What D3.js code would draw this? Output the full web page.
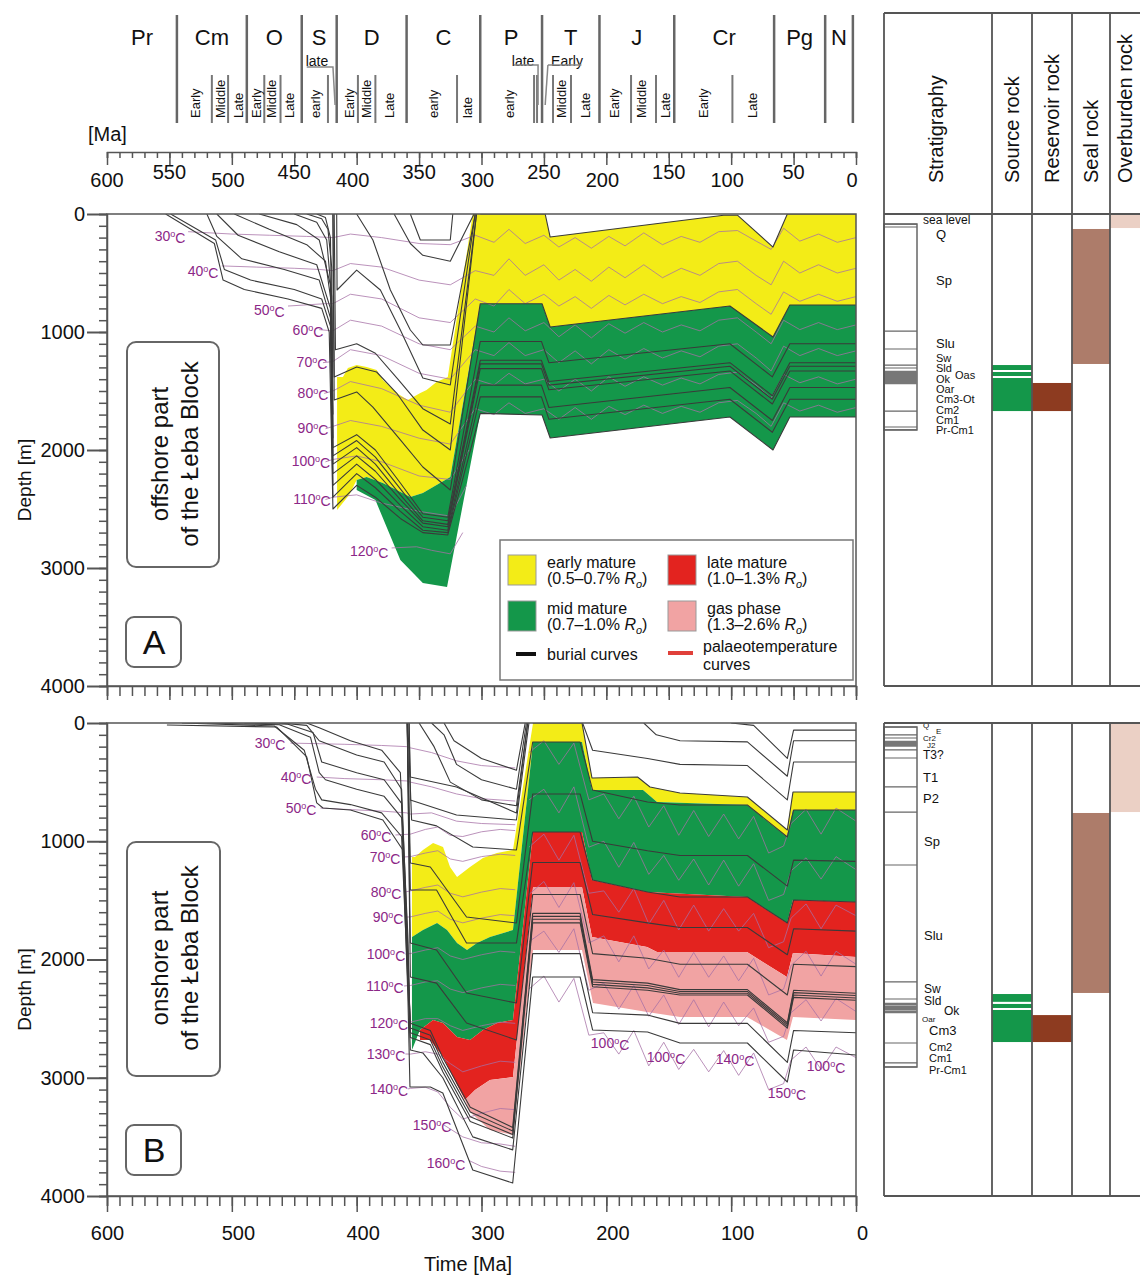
<!DOCTYPE html>
<html>
<head>
<meta charset="utf-8">
<script src="https://cdn.jsdelivr.net/npm/d3@7"></script>
<style>
body { margin: 0; background: #fff; }
text { font-family: "Liberation Sans", Arial, sans-serif; fill: #111; }
</style>
</head>
<body>
<svg id="chart" width="1140" height="1275"></svg>
<script>
// ---------- time scale ----------
let periodNames = ["Pr", "Cm", "O", "S", "D", "C", "P", "T", "J", "Cr", "Pg", "N"];
let periodBounds = [544, 488, 444, 416, 360, 301, 251.5, 205.5, 145.6, 65.6, 24.7, 2.5];
let epochBounds = [516, 503, 474, 461, 423, 399, 385, 319.6, 257.9, 255.5, 242.7, 228.3, 180.2, 160.2, 99];
let epochLabels = [["Early", 529.5], ["Middle", 509.5], ["Late", 495], ["Early", 480.6], ["Middle", 468.6], ["Late", 454.2],
    ["early", 433.4], ["Early", 406], ["Middle", 392.5], ["Late", 374], ["early", 338.8], ["late", 311.6], ["early", 278],
    ["Middle", 236.3], ["Late", 217], ["Early", 193.9], ["Middle", 172.2], ["Late", 153], ["Early", 122.5], ["Late", 83.3]];
let flatLabels = [["late", 431.8], ["late", 266.7], ["Early", 231.5]];
let brackets = [[[440, 67], [419, 67], [417.3, 105]], [[274, 65], [254.7, 65], [254.7, 105]], [[246.8, 65], [220, 65]], [[246.8, 65], [249, 105]]];
let timeTicks = [600, 550, 500, 450, 400, 350, 300, 250, 200, 150, 100, 50, 0];

// ---------- panel A (offshore) : [Ma, depth m] ----------
let yellowA = [[415.7,1381],[411,1381],[407,1305],[400,1280],[392,1297],[384,1322],[379,1407],[368,1517],[359,1576],[349,1517],[344,1492],[336,1424],[327,1381],[307,0],[249,0],[245,195],[106,10],[95,10],[66.5,280],[55,0],[0,0],[0,771],[53,771],[66.5,1042],[101,780],[245,958],[251.5,760],[301,760],[325,2229],[347,2364],[357,2398],[379,2280],[392,2229],[400,2254],[406,2381],[415.7,2509]];
let greenA = [[400,2254],[392,2229],[379,2280],[357,2398],[347,2364],[325,2229],[301,760],[251.5,760],[245,958],[101,780],[66.5,1042],[53,771],[0,771],[0,1720],[53,1720],[66.5,2000],[101,1720],[245,1898],[251.5,1703],[301,1690],[327.6,3161],[347,3127],[365,2932],[385,2424],[400,2339]];

let burialA = [
    [[553,0],[514,250],[507,560],[490,640],[455,720],[428,800],[422,1000],[419,2500],[400,2300],[385,2400],[365,2580],[347,2700],[327,2720],[301,1690],[251.5,1703],[245,1898],[101,1720],[66.5,2000],[53,1720],[0,1720]],
    [[549,0],[513,220],[506,470],[485,560],[450,640],[428,720],[421,950],[419,2400],[400,2200],[385,2320],[365,2520],[347,2680],[327,2700],[301,1550],[252,1550],[246,1740],[101,1570],[67,1850],[53,1570],[0,1570]],
    [[520,0],[512,190],[492,380],[458,470],[430,560],[421,880],[419,2300],[400,2120],[385,2250],[365,2470],[347,2650],[327,2680],[301,1450],[252,1450],[246,1640],[101,1470],[67,1750],[53,1470],[0,1470]],
    [[512,0],[495,180],[462,320],[432,430],[421,800],[419,2200],[400,2050],[385,2180],[365,2420],[347,2620],[327,2650],[301,1310],[252,1310],[246,1490],[101,1330],[67,1610],[53,1330],[0,1330]],
    [[498,0],[470,130],[440,260],[425,400],[420,780],[419,2120],[400,1980],[385,2120],[365,2380],[347,2600],[327,2630],[301,1270],[252,1270],[246,1450],[101,1290],[67,1570],[53,1290],[0,1290]],
    [[478,0],[448,90],[430,220],[421,600],[419,2050],[400,1920],[385,2060],[365,2330],[347,2570],[327,2600],[301,1240],[252,1240],[246,1420],[101,1260],[67,1540],[53,1260],[0,1260]],
    [[450,0],[432,70],[424,220],[420,700],[419,1980],[400,1870],[385,2000],[365,2280],[347,2540],[327,2570],[301,1080],[252,1080],[246,1260],[101,1100],[67,1380],[53,1100],[0,1100]],
    [[440,0],[428,40],[423,130],[420,450],[419,1900]],
    [[432,0],[425,30],[421,200],[419,1700]],
    [[419,0],[418,1576],[400,1508],[387,1636],[365,1915],[347,2144],[325,2339],[301,760],[251.5,760],[245,958],[101,780],[66.5,1042],[53,771],[0,771]],
    [[419,0],[418,1381],[400,1297],[384,1339],[368,1517],[347,1831],[325,2000],[304,0]],
    [[418,0],[417,1150],[400,1100],[385,1180],[367,1400],[347,1650],[325,1780],[304,0]],
    [[416,0],[415.7,644],[400,475],[381,644],[365,983],[347,1390],[325,1449],[305,0]],
    [[400,0],[387,220],[373,644],[357,983],[347,1110],[325,1110],[305,0]],
    [[370,0],[357,250],[347,350],[325,400],[306,0]],
    [[357,0],[349,220],[325,220],[323,0]],
    [[301,0],[249,0],[245,195],[106,10],[95,10],[66.5,280],[55,0],[0,0]]
];

let isoA = [
    [[535,150],[500,170],[470,180],[440,190],[419,200],[405,170],[380,200],[350,250],[325,260],[305,180],[290,240],[278,130],[265,250],[250,180],[238,280],[225,200],[212,290],[198,190],[185,270],[170,160],[155,260],[140,190],[125,240],[110,150],[95,140],[80,230],[68,300],[58,120],[45,230],[30,170],[15,240],[0,200]],
    [[508,440],[480,450],[450,460],[430,470],[419,480],[405,420],[380,450],[350,560],[325,600],[305,480],[290,520],[278,380],[265,520],[250,430],[238,560],[225,470],[212,570],[198,450],[185,540],[170,430],[155,540],[140,460],[125,520],[110,420],[95,400],[80,520],[68,600],[58,400],[45,500],[30,430],[15,500],[0,460]],
    [[455,780],[440,770],[425,760],[419,760],[405,680],[380,720],[350,880],[325,920],[305,720],[290,780],[278,640],[265,760],[250,680],[238,780],[225,700],[212,800],[198,690],[185,770],[170,680],[155,760],[140,700],[125,750],[110,660],[95,640],[80,760],[68,850],[58,660],[45,740],[30,680],[15,740],[0,700]],
    [[430,980],[419,990],[405,900],[380,950],[350,1100],[325,1150],[305,950],[290,1000],[278,880],[265,990],[250,920],[238,1040],[225,940],[212,1050],[198,930],[185,1010],[170,920],[155,1000],[140,940],[125,990],[110,900],[95,880],[80,1000],[68,1100],[58,900],[45,980],[30,920],[15,980],[0,940]],
    [[427,1260],[419,1250],[405,1150],[380,1200],[350,1350],[325,1400],[305,1150],[290,1200],[278,1090],[265,1200],[250,1150],[238,1260],[225,1160],[212,1270],[198,1150],[185,1230],[170,1140],[155,1220],[140,1160],[125,1210],[110,1120],[95,1100],[80,1220],[68,1330],[58,1120],[45,1200],[30,1140],[15,1200],[0,1160]],
    [[426,1520],[419,1500],[405,1420],[380,1480],[350,1620],[325,1680],[305,1400],[290,1450],[278,1350],[265,1440],[250,1400],[238,1500],[225,1400],[212,1500],[198,1380],[185,1460],[170,1380],[155,1450],[140,1390],[125,1440],[110,1360],[95,1340],[80,1450],[68,1560],[58,1360],[45,1430],[30,1380],[15,1440],[0,1400]],
    [[425,1820],[419,1800],[405,1750],[380,1800],[350,1900],[325,1950],[305,1650],[290,1700],[278,1600],[265,1690],[250,1650],[238,1740],[225,1640],[212,1740],[198,1630],[185,1700],[170,1620],[155,1690],[140,1630],[125,1680],[110,1600],[95,1580],[80,1690],[68,1800],[58,1600],[45,1670],[30,1620],[15,1680],[0,1640]],
    [[425,2100],[419,2080],[400,2050],[380,2100],[350,2220],[325,2250],[310,2000]],
    [[425,2420],[419,2400],[400,2380],[380,2450],[350,2520],[325,2560],[312,2300]],
    [[372,2830],[352,2820],[340,2850],[325,2880],[315,2700]]
];
let isoLabelsA = [[549.5,186,30],[523,483,40],[470,814,50],[439,983,60],[435.8,1254,70],[435,1517,80],[435,1814,90],[436.6,2093,100],[435.8,2415,110],[390,2856,120]];

// ---------- panel B (onshore) ----------
let yellowB = [[355.7,1133],[353.3,1133],[346.9,1074],[338.8,1015],[330.8,1049],[325.2,1218],[319.6,1302],[309.2,1218],[298.8,1142],[287.6,1099],[274.8,1074],[258.7,0],[219.5,0],[211.5,465],[175.4,457],[165,541],[141,592],[87.3,626],[55.3,905],[50.5,584],[0,584],[0,736],[50.5,736],[55.3,964],[87.3,693],[159.4,668],[170.6,567],[211.5,567],[219.5,161],[258.7,161],[274.8,1751],[293.2,1810],[303.6,1861],[311.6,1920],[319.6,1861],[327.6,1751],[335.6,1691],[346.9,1751],[355.7,1810]];
let greenB = [[355.7,1810],[346.9,1751],[335.6,1691],[327.6,1751],[319.6,1861],[311.6,1920],[303.6,1861],[293.2,1810],[274.8,1751],[258.7,161],[219.5,161],[211.5,567],[170.6,567],[159.4,668],[87.3,693],[55.3,964],[50.5,736],[0,736],[0,1514],[50.5,1497],[55.3,1691],[87.3,1472],[167.4,1429],[211.5,1328],[219.5,922],[258.7,922],[274.8,2512],[287.6,2537],[298.8,2596],[309.2,2681],[319.6,2655],[330.8,2537],[338.8,2512],[349.3,2596],[355.7,2765]];
let redB = [[349.3,2596],[338.8,2512],[330.8,2537],[319.6,2655],[309.2,2681],[298.8,2596],[287.6,2537],[274.8,2512],[258.7,922],[219.5,922],[211.5,1328],[167.4,1429],[87.3,1472],[55.3,1691],[50.5,1497],[0,1514],[0,1979],[50.5,1945],[55.3,2148],[87.3,1937],[159.4,1937],[167.4,1894],[211.5,1810],[219.5,1387],[258.7,1387],[274.8,2994],[293.2,3019],[305.2,3104],[313.2,3188],[319.6,3061],[330.8,2825],[341.2,2681],[349.3,2681]];
let pinkB = [[313.2,3188],[305.2,3104],[293.2,3019],[274.8,2994],[258.7,1387],[219.5,1387],[211.5,1810],[167.4,1894],[159.4,1937],[87.3,1937],[55.3,2148],[50.5,1945],[0,1979],[0,2512],[50.5,2486],[55.3,2681],[87.3,2486],[141,2486],[167.4,2444],[210.7,2368],[219.5,1920],[258.7,1920],[274.8,3484],[293.2,3442],[309.2,3290]];

let burialB = [
    [[552,17],[464,34],[440,287],[432,676],[427,719],[405,736],[379,820],[363,1074],[359,2300],[357.3,3078],[341,3078],[331,3129],[307,3780],[275,3890],[259,2148],[221,2148],[211,2596],[167,2613],[141,2706],[87,2706],[55,3036],[50,2765],[0,2808]],
    [[540,0],[466,25],[442,230],[433,560],[428,650],[405,690],[380,760],[364,960],[359,2200],[357,2765],[347,2790],[331,3000],[307,3500],[275,3610],[259,1950],[221,1950],[211,2450],[167,2470],[141,2540],[87,2540],[55,2870],[50,2600],[0,2620]],
    [[520,0],[462,15],[437,120],[430,420],[425,480],[400,560],[378,620],[364,800],[359,2100],[357,2540],[341,2600],[331,2830],[309,3250],[275,3420],[259,1610],[221,1610],[211,2170],[167,2200],[141,2255],[87,2255],[55,2535],[50,2260],[0,2285]],
    [[490,0],[455,10],[435,80],[428,330],[400,420],[378,480],[364,680],[359,2000],[357,2580],[341,2640],[331,2870],[309,3290],[275,3450],[259,1635],[221,1635],[211,2190],[167,2220],[141,2270],[87,2270],[55,2550],[50,2280],[0,2305]],
    [[462,0],[440,20],[430,150],[400,270],[378,330],[364,560],[359,1900],[357,2620],[341,2680],[331,2910],[309,3330],[275,3480],[259,1660],[221,1660],[211,2210],[167,2240],[141,2285],[87,2285],[55,2565],[50,2300],[0,2325]],
    [[440,0],[430,40],[405,150],[380,230],[365,420],[359,1800],[357,2660],[341,2720],[331,2950],[309,3370],[275,3510],[259,1690],[221,1690],[211,2230],[167,2260],[141,2300],[87,2300],[55,2580],[50,2320],[0,2345]],
    [[359.5,0],[357,2148],[336,2200],[312,2537],[272,2680],[259,1450],[221,1450],[211,1950],[167,1990],[141,2040],[87,2040],[55,2300],[50,2040],[0,2060]],
    [[359.5,0],[357,1861],[336,1920],[312,2283],[272,2368],[259,1180],[221,1180],[211,1620],[167,1690],[141,1730],[87,1730],[55,1960],[50,1740],[0,1760]],
    [[359.5,0],[357,1412],[336,1412],[312,1861],[272,1861],[259,922],[221,922],[211,1328],[167,1429],[141,1472],[87,1472],[55,1691],[50,1497],[0,1514]],
    [[359.5,0],[357,1184],[341,1218],[312,1641],[272,1691],[259,600],[221,600],[211,1000],[167,1080],[141,1120],[87,1120],[55,1380],[50,1160],[0,1170]],
    [[359,0],[356,820],[336,870],[307,1049],[272,1074],[259,161],[221,161],[211,567],[167,668],[141,693],[87,693],[55,964],[50,736],[0,736]],
    [[358,0],[357,651],[320,778],[272,820],[262,0]],
    [[358,0],[357,457],[320,541],[272,761],[263,0]],
    [[350,0],[338,200],[325,500],[300,650],[272,700],[263,0]],
    [[340,0],[330,100],[320,350],[300,480],[272,560],[264,0]],
    [[330,0],[322,150],[300,300],[272,400],[265,0]],
    [[259,0],[219.5,0],[211.5,465],[175,457],[165,541],[141,592],[87,626],[55,905],[50.5,584],[0,584]],
    [[219,0],[211,230],[167,300],[141,350],[87,360],[55,650],[50,330],[0,330]],
    [[170,0],[160,100],[141,150],[87,160],[55,450],[50,150],[0,150]],
    [[100,0],[82,20],[55,300],[50,60],[0,60]]
];
let isoTimesB = [262,250,238,226,214,202,190,178,166,154,142,130,118,106,94,82,70,58,52,40,28,16,0];
let isoRightB = [
    [250,150,350,170,650,600,810,620,880,700,950,740,960,770,980,790,1100,1040,850,730,940,720,830],
    [650,560,760,540,1050,1000,1220,1010,1280,1120,1330,1150,1370,1160,1380,1190,1500,1450,1250,1140,1320,1130,1240],
    [1050,940,1160,950,1440,1420,1600,1400,1700,1500,1750,1540,1760,1570,1760,1610,1900,1850,1650,1530,1740,1540,1630],
    [1450,1340,1560,1350,1860,1800,2020,1800,2080,1920,2150,1940,2150,1970,2180,1990,2300,2250,2050,1930,2140,1930,2040],
    [1850,1760,1940,1740,2260,2200,2420,2220,2480,2300,2550,2340,2570,2360,2560,2410,2700,2650,2450,2340,2520,2330,2440],
    [2250,2140,2360,2160,2640,2620,2800,2600,2900,2700,2930,2760,2950,2770,2980,2790,3100,3050,2850,2740,2930,2740,2830]
];
let isoB = [
    [[453,170],[430,175],[410,180],[380,190],[360,200],[357,210],[340,250],[320,320],[300,360],[273,380]],
    [[432,457],[410,470],[380,480],[360,490],[357,500],[340,540],[320,600],[300,640],[273,660]],
    [[429,719],[410,730],[380,745],[360,760],[357,770],[340,760],[320,830],[300,850],[273,860]],
    [[369,947],[357,940],[345,900],[335,880],[325,950],[315,960],[300,920],[285,900],[273,910]],
    [[362,1133],[357,1130],[345,1100],[335,1080],[325,1150],[315,1170],[300,1130],[285,1110],[273,1120]],
    [[361,1429],[357,1420],[345,1390],[335,1370],[325,1440],[315,1470],[300,1430],[285,1400],[273,1410]],
    [[360,1641],[357,1640],[345,1610],[335,1590],[325,1660],[315,1690],[300,1650],[285,1620],[273,1630]],
    [[361,1954],[357,1950],[345,1920],[335,1900],[325,1970],[315,2000],[300,1960],[285,1930],[273,1940]],
    [[362,2224],[357,2220],[345,2190],[335,2180],[325,2250],[315,2280],[300,2240],[285,2210],[273,2220]],
    [[359,2537],[357,2530],[345,2500],[335,2500],[325,2560],[315,2600],[300,2560],[285,2530],[273,2540]],
    [[361,2799],[357,2800],[345,2780],[335,2800],[325,2880],[315,2950],[300,2900],[285,2860],[273,2870]],
    [[359,3095],[357,3090],[345,3080],[335,3120],[325,3250],[315,3350],[300,3300],[285,3260],[273,3270]],
    [[330,3400],[315,3500],[300,3550],[285,3560],[273,3580]],
    [[310,3700],[300,3750],[285,3790],[273,3800]]
];
let isoLabelsB = [[469.4,169,30],[448.6,457,40],[444.6,719,50],[384.5,947,60],[377.3,1133,70],[376.5,1429,80],[374.9,1641,90],[376.5,1954,100],[377.3,2224,110],[374.1,2537,120],[376.5,2799,130],[374.1,3095,140],[339.6,3399,150],[328.4,3721,160],[197,2706,100],[152.2,2825,100],[96.9,2842,140],[55.3,3129,150],[24,2901,100]];

// ---------- stratigraphy columns (depth m) ----------
let stratLinesA = [85, 110, 992, 1144, 1280, 1305, 1670, 1805, 1830];
let stratDarkA = [1339, 1356, 1373, 1390, 1407, 1420, 1432];
let stratLabelsA = [["sea level", 923, 52, 12], ["Q", 936, 172, 13], ["Sp", 936, 559, 13], ["Slu", 936, 1093, 13], ["Sw", 936, 1220, 11], ["Sld", 936, 1305, 11], ["Oas", 955, 1368, 11], ["Ok", 936, 1400, 11], ["Oar", 936, 1487, 11], ["Cm3-Ot", 936, 1572, 11], ["Cm2", 936, 1659, 11], ["Cm1", 936, 1746, 11], ["Pr-Cm1", 936, 1836, 11]];
let stratLinesB = [34, 101, 127, 228, 296, 541, 753, 1201, 2190, 2334, 2706, 2875, 2909];
let stratDarkB = [161, 175, 190, 2376, 2400, 2420, 2444];
let stratLabelsB = [["Q", 923, 22, 8], ["E", 936, 72, 8], ["Cr2", 923, 128, 8], ["J2", 927, 186, 8], ["T3?", 923, 268, 12], ["T1", 923, 457, 13], ["P2", 923, 634, 13], ["Sp", 924, 998, 13], ["Slu", 924, 1793, 13], ["Sw", 924, 2246, 12], ["Sld", 924, 2346, 12], ["Ok", 944, 2432, 12], ["Oar", 922, 2505, 8], ["Cm3", 929, 2596, 13], ["Cm2", 929, 2738, 11], ["Cm1", 929, 2833, 11], ["Pr-Cm1", 929, 2938, 11]];
let sourceA = [[1280, 1322], [1339, 1373], [1390, 1670]];
let reservoirA = [[1432, 1670]];
let sealA = [[127, 1271]];
let overburdenA = [[0, 119]];
let sourceB = [[2292, 2358], [2376, 2410], [2427, 2698]];
let reservoirB = [[2470, 2698]];
let sealB = [[761, 2283]];
let overburdenB = [[0, 753]];
let columnNames = ["Stratigraphy", "Source rock", "Reservoir rock", "Seal rock", "Overburden rock"];

// ---------- drawing ----------
const svg = d3.select("#chart");
const font = '"Liberation Sans", Arial, sans-serif';
const col = { yellow: "#f3ec17", green: "#14974a", red: "#e3231f", pink: "#f1a3a3",
    burial: "#3a3a3a", iso: "#a570a5", isoText: "#8c2787", frame: "#555" };

const x = d3.scaleLinear().domain([600, 0]).range([107, 856]);
const yA = d3.scaleLinear().domain([0, 4000]).range([214, 686]);
const yB = d3.scaleLinear().domain([0, 4000]).range([723, 1196]);

// top geological time scale
const ts = svg.append("g");
periodBounds.forEach(b => ts.append("line").attr("x1", x(b)).attr("x2", x(b)).attr("y1", 15).attr("y2", 123)
    .attr("stroke", "#666").attr("stroke-width", 2.5));
epochBounds.forEach(b => ts.append("line").attr("x1", x(b)).attr("x2", x(b)).attr("y1", 75).attr("y2", 123)
    .attr("stroke", "#777").attr("stroke-width", 2));
let edges = [600].concat(periodBounds);
periodNames.forEach((n, i) => ts.append("text").attr("x", x((edges[i] + edges[i + 1]) / 2)).attr("y", 45)
    .attr("text-anchor", "middle").attr("font-size", 22).text(n));
epochLabels.forEach(e => ts.append("text").attr("text-anchor", "start").attr("font-size", 13)
    .attr("transform", `translate(${x(e[1]) + 5},118) rotate(-90)`).text(e[0]));
flatLabels.forEach(e => ts.append("text").attr("x", x(e[1])).attr("y", 66).attr("text-anchor", "middle")
    .attr("font-size", 14).text(e[0]));
brackets.forEach(b => ts.append("path").attr("d", d3.line().x(d => x(d[0])).y(d => d[1])(b))
    .attr("fill", "none").attr("stroke", "#888").attr("stroke-width", 1.5));

ts.append("g").attr("transform", "translate(0,152)")
    .call(d3.axisBottom(x).tickValues(d3.range(0, 601, 10)).tickSize(6).tickFormat(""))
    .call(g => g.selectAll("line,path").attr("stroke", "#555").attr("stroke-width", 1.5));
ts.append("g").attr("transform", "translate(0,152)")
    .call(d3.axisBottom(x).tickValues(timeTicks).tickSize(13).tickFormat(""))
    .call(g => { g.select(".domain").remove(); g.selectAll("line").attr("stroke", "#555").attr("stroke-width", 1.5); });
timeTicks.forEach(v => ts.append("text").attr("x", x(v) - (v % 100 === 0 && v < 600 ? 4 : 0)).attr("y", v % 100 === 0 ? 187 : 179)
    .attr("text-anchor", "middle").attr("font-size", 20).text(v));
ts.append("text").attr("x", 88).attr("y", 141).attr("font-size", 20).text("[Ma]");

function panel(y, zones, burial, isos, labels, id) {
    const g = svg.append("g");
    const r0 = y.range();
    g.append("clipPath").attr("id", id).append("rect")
        .attr("x", 107).attr("y", r0[0]).attr("width", 749).attr("height", r0[1] - r0[0]);
    const body = g.append("g").attr("clip-path", `url(#${id})`);
    const line = d3.line().x(d => x(d[0])).y(d => y(d[1]));
    zones.forEach(z => body.append("path").attr("d", line(z.pts) + "Z").attr("fill", z.c).attr("stroke", "none"));
    isos.forEach(p => body.append("path").attr("d", line(p)).attr("fill", "none")
        .attr("stroke", col.iso).attr("stroke-width", 0.9).attr("opacity", 0.85));
    burial.forEach(p => body.append("path").attr("d", line(p)).attr("fill", "none")
        .attr("stroke", col.burial).attr("stroke-width", 1.1).attr("stroke-linejoin", "round"));
    labels.forEach(l => {
        const t = g.append("text").attr("x", x(l[0])).attr("y", y(l[1])).attr("dy", "0.35em")
            .attr("text-anchor", "middle").attr("font-size", 14).style("fill", col.isoText);
        t.append("tspan").text(l[2]);
        t.append("tspan").attr("dy", "-0.45em").attr("font-size", 9).text("o");
        t.append("tspan").attr("dy", "0.45em").text("C");
    });
    g.append("rect").attr("x", 107).attr("y", r0[0]).attr("width", 749).attr("height", r0[1] - r0[0])
        .attr("fill", "none").attr("stroke", col.frame).attr("stroke-width", 1.5);
    g.append("g").attr("transform", "translate(107,0)")
        .call(d3.axisLeft(y).tickValues(d3.range(0, 4001, 100)).tickSize(8).tickFormat(""))
        .call(a => a.selectAll("line,path").attr("stroke", col.frame).attr("stroke-width", 1.5));
    g.append("g").attr("transform", "translate(107,0)")
        .call(d3.axisLeft(y).tickValues(d3.range(0, 4001, 1000)).tickSize(20).tickPadding(2).tickFormat(d3.format("d")))
        .call(a => {
            a.select(".domain").remove();
            a.selectAll("line").attr("stroke", col.frame).attr("stroke-width", 2);
            a.selectAll("text").attr("font-size", 20).attr("font-family", font).style("fill", "#111");
        });
    g.append("text").attr("transform", `translate(31,${(r0[0] + r0[1]) / 2 + 30}) rotate(-90)`)
        .attr("text-anchor", "middle").attr("font-size", 19).text("Depth [m]");
    g.append("g").attr("transform", `translate(0,${r0[1]})`)
        .call(d3.axisBottom(x).tickValues(d3.range(0, 601, 10)).tickSize(10).tickFormat(""))
        .call(a => a.selectAll("line,path").attr("stroke", col.frame).attr("stroke-width", 1.5));
    return g;
}

const gA = panel(yA, [{ pts: yellowA, c: col.yellow }, { pts: greenA, c: col.green }], burialA, isoA, isoLabelsA, "clipA");
gA.append("g").attr("transform", "translate(0,686)")
    .call(d3.axisBottom(x).tickValues(d3.range(0, 601, 50)).tickSize(14).tickFormat(""))
    .call(a => { a.select(".domain").remove(); a.selectAll("line").attr("stroke", col.frame).attr("stroke-width", 1.5); });

let isoBAll = isoB.concat(isoRightB.map(r => r.map((d, i) => [isoTimesB[i], d])));
const gB = panel(yB, [{ pts: yellowB, c: col.yellow }, { pts: greenB, c: col.green }, { pts: redB, c: col.red }, { pts: pinkB, c: col.pink }],
    burialB, isoBAll, isoLabelsB, "clipB");
gB.append("g").attr("transform", "translate(0,1196)")
    .call(d3.axisBottom(x).tickValues(d3.range(0, 601, 100)).tickSize(16).tickPadding(14))
    .call(a => {
        a.select(".domain").remove();
        a.selectAll("line").attr("stroke", col.frame).attr("stroke-width", 1.5);
        a.selectAll("text").attr("font-size", 20).attr("font-family", font).style("fill", "#111")
            .attr("dx", d => d < 600 ? 6 : 0);
    });
gB.append("text").attr("x", 468).attr("y", 1271).attr("text-anchor", "middle").attr("font-size", 20).text("Time [Ma]");

// panel name boxes
function nameBox(x0, y0, w, h, lines, cy) {
    svg.append("rect").attr("x", x0).attr("y", y0).attr("width", w).attr("height", h).attr("rx", 9)
        .attr("fill", "#fff").attr("stroke", "#666").attr("stroke-width", 2);
    lines.forEach((s, i) => svg.append("text").attr("text-anchor", "middle").attr("font-size", 24)
        .attr("transform", `translate(${x0 + 41 + i * 30},${cy}) rotate(-90)`).text(s));
}
nameBox(127, 342, 92, 225, ["offshore part", "of the Łeba Block"], 454);
nameBox(127, 842, 93, 234, ["onshore part", "of the Łeba Block"], 958);
function letterBox(x0, y0, s) {
    svg.append("rect").attr("x", x0).attr("y", y0).attr("width", 55).attr("height", 50).attr("rx", 8)
        .attr("fill", "#fff").attr("stroke", "#666").attr("stroke-width", 2);
    svg.append("text").attr("x", x0 + 28).attr("y", y0 + 37).attr("text-anchor", "middle").attr("font-size", 34).text(s);
}
letterBox(126, 617, "A");
letterBox(126, 1125, "B");

// legend
const lg = svg.append("g");
lg.append("rect").attr("x", 500).attr("y", 540).attr("width", 353).attr("height", 140)
    .attr("fill", "#fff").attr("stroke", "#777").attr("stroke-width", 1.5);
let legendItems = [
    { c: col.yellow, x: 508, y: 555, t1: "early mature", t2: "(0.5–0.7% " },
    { c: col.red, x: 668, y: 555, t1: "late mature", t2: "(1.0–1.3% " },
    { c: col.green, x: 508, y: 601, t1: "mid mature", t2: "(0.7–1.0% " },
    { c: col.pink, x: 668, y: 601, t1: "gas phase", t2: "(1.3–2.6% " }
];
legendItems.forEach(it => {
    lg.append("rect").attr("x", it.x).attr("y", it.y).attr("width", 28).attr("height", 30)
        .attr("fill", it.c).attr("stroke", "#999").attr("stroke-width", 1);
    lg.append("text").attr("x", it.x + 39).attr("y", it.y + 13).attr("font-size", 16).text(it.t1);
    const t = lg.append("text").attr("x", it.x + 39).attr("y", it.y + 29).attr("font-size", 16);
    t.append("tspan").text(it.t2);
    t.append("tspan").attr("font-style", "italic").text("R");
    t.append("tspan").attr("font-size", 11).attr("dy", 4).attr("font-style", "italic").text("o");
    t.append("tspan").attr("dy", -4).text(")");
});
lg.append("line").attr("x1", 516).attr("x2", 536).attr("y1", 654).attr("y2", 654).attr("stroke", "#111").attr("stroke-width", 4);
lg.append("text").attr("x", 547).attr("y", 660).attr("font-size", 16).text("burial curves");
lg.append("line").attr("x1", 668).attr("x2", 693).attr("y1", 653).attr("y2", 653).attr("stroke", "#e0403a").attr("stroke-width", 4);
lg.append("text").attr("x", 703).attr("y", 652).attr("font-size", 16).text("palaeotemperature");
lg.append("text").attr("x", 703).attr("y", 670).attr("font-size", 16).text("curves");

// right-hand columns
const cols = [884, 992, 1032, 1072, 1110, 1150];
const rc = svg.append("g");
columnNames.forEach((n, i) => rc.append("text").attr("text-anchor", "start").attr("font-size", 20)
    .attr("transform", `translate(${(cols[i] + cols[i + 1]) / 2 + 7 - (i === 0 ? 2 : 0) - (i === 4 ? 5 : 0)},183) rotate(-90)`).text(n));

function columns(y, strat, dark, labels, src, res, seal, over) {
    const [y0, y1] = y.range();
    const g = rc.append("g");
    const block = (arr, i, c) => arr.forEach(r => g.append("rect").attr("x", cols[i]).attr("width", cols[i + 1] - cols[i])
        .attr("y", y(r[0])).attr("height", y(r[1]) - y(r[0])).attr("fill", c));
    block(src, 1, col.green);
    block(res, 2, "#8d3b20");
    block(seal, 3, "#ad7c6a");
    block(over, 4, "#ebd0c5");
    const s0 = strat[0], s1 = strat[strat.length - 1];
    g.append("rect").attr("x", cols[0]).attr("y", y(s0)).attr("width", 917 - cols[0]).attr("height", y(s1) - y(s0))
        .attr("fill", "none").attr("stroke", "#666").attr("stroke-width", 1.5);
    strat.forEach(d => g.append("line").attr("x1", cols[0]).attr("x2", 917).attr("y1", y(d)).attr("y2", y(d))
        .attr("stroke", "#666").attr("stroke-width", 1.2));
    dark.forEach(d => g.append("line").attr("x1", cols[0]).attr("x2", 917).attr("y1", y(d)).attr("y2", y(d))
        .attr("stroke", "#777").attr("stroke-width", 2.5));
    labels.forEach(l => g.append("text").attr("x", l[1]).attr("y", y(l[2])).attr("dy", "0.35em")
        .attr("font-size", l[3]).text(l[0]));
    cols.slice(0, 5).forEach(cx => g.append("line").attr("x1", cx).attr("x2", cx).attr("y1", y0).attr("y2", y1)
        .attr("stroke", "#555").attr("stroke-width", 1.8));
    [y0, y1].forEach(yy => g.append("line").attr("x1", cols[0]).attr("x2", 1140).attr("y1", yy).attr("y2", yy)
        .attr("stroke", "#555").attr("stroke-width", 1.8));
}
cols.slice(0, 5).forEach(cx => rc.append("line").attr("x1", cx).attr("x2", cx).attr("y1", 13).attr("y2", 214)
    .attr("stroke", "#555").attr("stroke-width", 1.8));
rc.append("line").attr("x1", cols[0]).attr("x2", 1140).attr("y1", 13).attr("y2", 13).attr("stroke", "#555").attr("stroke-width", 1.8);
columns(yA, stratLinesA, stratDarkA, stratLabelsA, sourceA, reservoirA, sealA, overburdenA);
columns(yB, stratLinesB, stratDarkB, stratLabelsB, sourceB, reservoirB, sealB, overburdenB);
</script>
</body>
</html>
